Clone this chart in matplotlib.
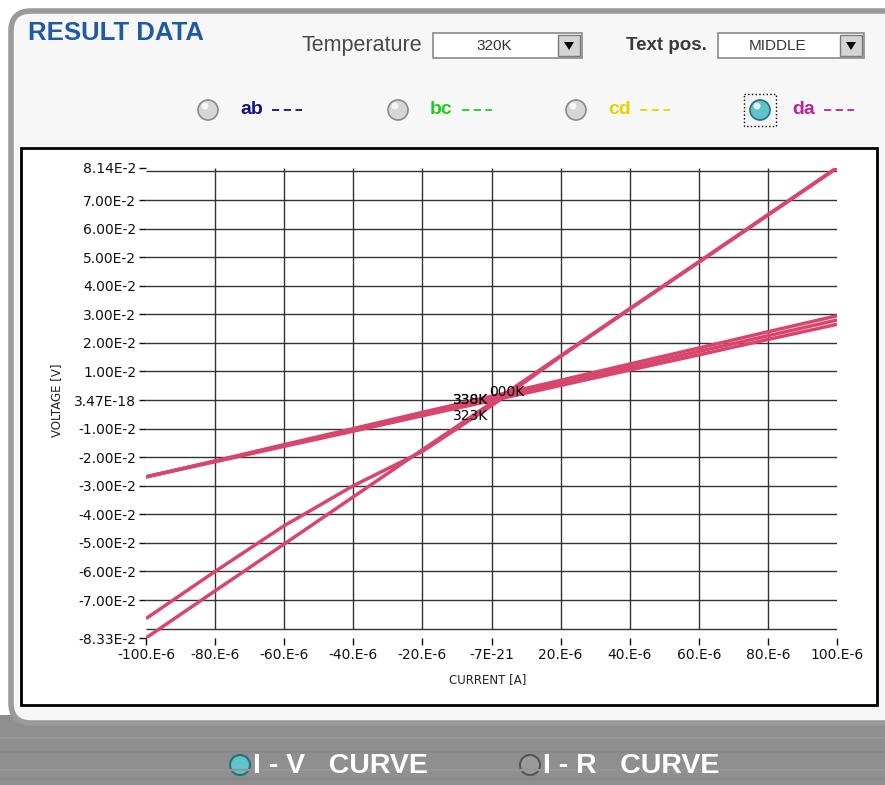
import numpy as np
import matplotlib
matplotlib.use('Agg')
import matplotlib.pyplot as plt
from matplotlib.patches import Rectangle, FancyBboxPatch, Circle, Polygon

# Data
current = [-100e-6, -80e-6, -60e-6, -40e-6, -20e-6, 0.0,
           20e-6, 40e-6, 60e-6, 80e-6, 100e-6]

steep_a = [-0.0833, -0.0668, -0.0504, -0.0339, -0.0174, -0.0010,
           0.0155, 0.0320, 0.0484, 0.0649, 0.0814]
steep_b = [-0.0765, -0.0600, -0.0440, -0.0300, -0.0180, -0.0020,
           0.0152, 0.0318, 0.0482, 0.0647, 0.0812]
flat_a = [-0.0269, -0.0216, -0.0162, -0.0109, -0.0055, -0.0002,
          0.0051, 0.0105, 0.0158, 0.0212, 0.0265]
flat_b = [-0.0269, -0.0214, -0.0159, -0.0104, -0.0049, 0.0006,
          0.0060, 0.0115, 0.0170, 0.0225, 0.0280]
flat_c = [-0.0269, -0.0213, -0.0156, -0.0100, -0.0043, 0.0013,
          0.0069, 0.0126, 0.0182, 0.0239, 0.0295]
curves = [steep_a, steep_b, flat_a, flat_b, flat_c]

x_ticks = [-100e-6, -80e-6, -60e-6, -40e-6, -20e-6, 0.0,
           20e-6, 40e-6, 60e-6, 80e-6, 100e-6]
x_labels = ['-100.E-6', '-80.E-6', '-60.E-6', '-40.E-6', '-20.E-6', '-7E-21',
            '20.E-6', '40.E-6', '60.E-6', '80.E-6', '100.E-6']
y_ticks = [-0.0833, -0.07, -0.06, -0.05, -0.04, -0.03, -0.02, -0.01, 0.0,
           0.01, 0.02, 0.03, 0.04, 0.05, 0.06, 0.07, 0.0814]
y_labels = ['-8.33E-2', '-7.00E-2', '-6.00E-2', '-5.00E-2', '-4.00E-2',
            '-3.00E-2', '-2.00E-2', '-1.00E-2', '3.47E-18', '1.00E-2',
            '2.00E-2', '3.00E-2', '4.00E-2', '5.00E-2', '6.00E-2',
            '7.00E-2', '8.14E-2']

temp_labels = ['330K', '338K', '323K', '000K']
temp_label_xy = [(-11.3e-6, 0.0), (-11.3e-6, 0.0), (-11.3e-6, -0.0056),
                 (-0.6e-6, 0.0028)]

radio_names  = ['ab', 'bc', 'cd', 'da']
radio_colors = ['#10108a', '#22cc22', '#e8d200', '#c0209a']

LINE_COLOR = '#d8466e'
W, H = 885, 785

fig = plt.figure(figsize=(W / 100, H / 100), dpi=100)

# background / UI panel in pixel coordinates
bg = fig.add_axes([0, 0, 1, 1])
bg.set_xlim(0, W)
bg.set_ylim(H, 0)
bg.axis('off')

bg.add_patch(Rectangle((0, 0), W, H, fc='white', ec='none'))
bg.add_patch(Rectangle((0, 715), W, 70, fc='#8f8f8f', ec='none'))
for yy, c in [(738, '#979797'), (752, '#898989'), (770, '#959595'), (779, '#8a8a8a')]:
    bg.plot([0, W], [yy, yy], color=c, lw=1.5)
bg.add_patch(FancyBboxPatch((11, 11), 940, 712,
                            boxstyle='round,pad=0,rounding_size=20',
                            fc='#f7f7f7', ec='#9a9a9a', lw=4))
bg.add_patch(Rectangle((21, 148), 856, 557, fc='white', ec='black', lw=2))

# header
bg.text(28, 33, 'RESULT DATA', color='#1f5aa6', fontsize=18.5,
        fontweight='bold', family='Liberation Sans', va='center')
bg.text(302, 46, 'Temperature', color='#4a4a4a', fontsize=15.5,
        family='Liberation Sans', va='center')
bg.text(626, 46, 'Text pos.', color='#3a3a3a', fontsize=13.5,
        fontweight='bold', family='Liberation Sans', va='center')

for x0, x1, txt in [(433, 582, '320K'), (718, 864, 'MIDDLE')]:
    bg.add_patch(Rectangle((x0, 33), x1 - x0, 25, fc='white', ec='#8a8a8a', lw=1.2))
    bg.text((x0 + x1 - 26) / 2, 46, txt, fontsize=11, color='#333333',
            family='Liberation Sans', ha='center', va='center')
    bg.add_patch(Rectangle((x1 - 24, 35), 22, 21, fc='#d4d4d4', ec='#7a7a7a', lw=1))
    cx = x1 - 13
    bg.add_patch(Polygon([(cx - 5, 42), (cx + 5, 42), (cx, 50)], fc='black'))

# series radio buttons
radio_x = [208, 398, 576, 760]
for i, (name, col) in enumerate(zip(radio_names, radio_colors)):
    rx = radio_x[i]
    if name == 'da':
        bg.add_patch(Circle((rx, 110), 10, fc='#5ec4cc', ec='#2c6f78', lw=1.2))
        bg.add_patch(Rectangle((744, 94), 32, 32, fill=False, ec='black',
                               ls=':', lw=1))
    else:
        bg.add_patch(Circle((rx, 110), 10, fc='#d6d6d6', ec='#8a8a8a', lw=1.2))
    bg.add_patch(Circle((rx - 3, 106), 3.5, fc='white', ec='none', alpha=0.8))
    bg.text(rx + 32, 110, name, color=col, fontsize=14,
            fontweight='bold', family='Liberation Sans', va='center')
    bg.plot([rx + 64, rx + 94], [110, 110], color=col, lw=1.3,
            ls=(0, (4, 2.5)))

# bottom buttons
bg.add_patch(Circle((240, 765), 10, fc='#5ec4cc', ec='#2c6f78', lw=1.5))
bg.text(253, 766, 'I - V   CURVE', color='white', fontsize=20.5, fontweight='bold',
        family='Liberation Sans', va='center')
bg.add_patch(Circle((530, 765), 10, fc='#9a9a9a', ec='#555555', lw=1.5))
bg.text(543, 766, 'I - R   CURVE', color='white', fontsize=20.5, fontweight='bold',
        family='Liberation Sans', va='center')

# axis titles
bg.text(57, 400, 'VOLTAGE [V]', rotation=90, fontsize=8.5, color='#222222',
        ha='center', va='center')
bg.text(488, 680, 'CURRENT [A]', fontsize=8.5, color='#222222',
        ha='center', va='center')

# main chart
ymin, ymax = y_ticks[0], y_ticks[-1]
bot = 1 - 638 / H
top = 1 - 167.5 / H
ax = fig.add_axes([146 / W, bot, (837 - 146) / W, top - bot])
ax.patch.set_visible(False)
ax.set_xlim(current[0], current[-1])
ax.set_ylim(ymin, ymax)
for s in ax.spines.values():
    s.set_visible(False)

ax.hlines(np.arange(-0.08, 0.0801, 0.01), current[0], current[-1],
          color='#333333', lw=1, zorder=1)
ax.vlines(x_ticks[1:-1], -0.08, ymax, color='#333333', lw=1, zorder=1)

for ys in curves:
    ax.plot(current, ys, color=LINE_COLOR, lw=2.5, zorder=3,
            solid_capstyle='butt')

for lab, (lx, ly) in zip(temp_labels, temp_label_xy):
    ax.text(lx, ly, lab, fontsize=10, color='black', va='center', zorder=4)

ax.set_xticks(x_ticks)
ax.set_xticklabels(x_labels)
ax.set_yticks(y_ticks)
ax.set_yticklabels(y_labels)
ax.tick_params(axis='both', labelsize=10, colors='#111111', length=5,
               width=1, pad=2)

fig.savefig('out.png', dpi=100)
